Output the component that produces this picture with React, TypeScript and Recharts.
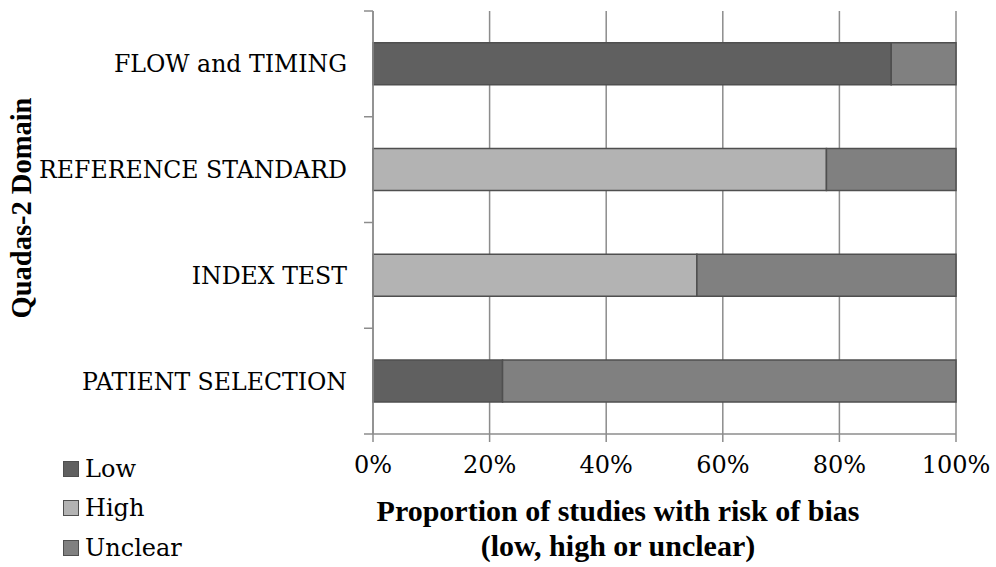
import { BarChart, Bar, XAxis, YAxis, CartesianGrid } from 'recharts';

const domains = ['FLOW and TIMING', 'REFERENCE STANDARD', 'INDEX TEST', 'PATIENT SELECTION'];
const low = [8 / 9, 0, 0, 2 / 9];
const high = [0, 7 / 9, 5 / 9, 0];
const unclear = [1 / 9, 2 / 9, 4 / 9, 7 / 9];
const xTicks = [0, 0.2, 0.4, 0.6, 0.8, 1];

const SERIES = [
  { key: 'Low', color: '#606060' },
  { key: 'High', color: '#b3b3b3' },
  { key: 'Unclear', color: '#808080' },
];

const data = domains.map((name, i) => ({
  name,
  Low: low[i],
  High: high[i],
  Unclear: unclear[i],
}));

const GRID = '#8c8c8c';
const SERIF = '"DejaVu Serif", serif';
const BOLD = '"Liberation Serif", "Times New Roman", serif';
const Y_GAP = 26; // tickSize + tickMargin of the category axis

// category label at the band centre, small tick marks on the band edges (Excel style)
function DomainTick(props: any) {
  const { x, y, payload, height, visibleTicksCount, index } = props;
  const half = height && visibleTicksCount ? height / visibleTicksCount / 2 : 0;
  const axisX = x + Y_GAP;
  return (
    <g>
      <text
        x={x}
        y={y}
        dy="0.355em"
        textAnchor="end"
        fill="#000"
        fontFamily={SERIF}
        fontSize={23.6}
      >
        {payload.value}
      </text>
      {half > 0 && (
        <line x1={axisX - 9} x2={axisX} y1={y - half} y2={y - half} stroke={GRID} strokeWidth={1.5} />
      )}
      {half > 0 && index === visibleTicksCount - 1 && (
        <line x1={axisX - 9} x2={axisX} y1={y + half} y2={y + half} stroke={GRID} strokeWidth={1.5} />
      )}
    </g>
  );
}

export default function App() {
  return (
    <div style={{ position: 'relative', width: 996, height: 567, background: '#fff' }}>
      <style>{'body{margin:0}'}</style>
      <BarChart
        width={996}
        height={567}
        data={data}
        layout="vertical"
        margin={{ top: 11, right: 40, bottom: 0, left: 0 }}
        barCategoryGap="30%"
      >
        <CartesianGrid horizontal={false} stroke={GRID} strokeWidth={1.5} />
        <XAxis
          type="number"
          domain={[0, 1]}
          ticks={xTicks}
          height={133}
          tickFormatter={(v) => `${Math.round(v * 100)}%`}
          stroke={GRID}
          strokeWidth={1.5}
          tickSize={8}
          tickMargin={14}
          tick={{ fill: '#000', fontFamily: SERIF, fontSize: 24 }}
        />
        <YAxis
          type="category"
          dataKey="name"
          width={373}
          stroke={GRID}
          strokeWidth={1.5}
          tickLine={false}
          tickSize={6}
          tickMargin={20}
          tick={<DomainTick />}
        />
        {SERIES.map((s) => (
          <Bar
            key={s.key}
            dataKey={s.key}
            stackId="a"
            fill={s.color}
            stroke="#4f4f4f"
            strokeWidth={1.5}
            isAnimationActive={false}
          />
        ))}
      </BarChart>

      <div
        style={{
          position: 'absolute',
          left: 22,
          top: 208,
          transform: 'translate(-50%, -50%) rotate(-90deg)',
          whiteSpace: 'nowrap',
          fontFamily: BOLD,
          fontWeight: 'bold',
          fontSize: 28.5,
        }}
      >
        Quadas-2 Domain
      </div>

      <div
        style={{
          position: 'absolute',
          left: 618,
          top: 528,
          transform: 'translate(-50%, -50%)',
          textAlign: 'center',
          whiteSpace: 'nowrap',
          fontFamily: BOLD,
          fontWeight: 'bold',
          fontSize: 30,
          lineHeight: '35px',
        }}
      >
        Proportion of studies with risk of bias
        <br />
        (low, high or unclear)
      </div>

      <div style={{ position: 'absolute', left: 63, top: 449, fontFamily: SERIF, fontSize: 24 }}>
        {SERIES.map((s) => (
          <div key={s.key} style={{ display: 'flex', alignItems: 'center', height: 39.5 }}>
            <span
              style={{
                display: 'inline-block',
                width: 14,
                height: 14,
                background: s.color,
                border: '1.5px solid #4f4f4f',
                marginRight: 6,
              }}
            />
            {s.key}
          </div>
        ))}
      </div>
    </div>
  );
}
